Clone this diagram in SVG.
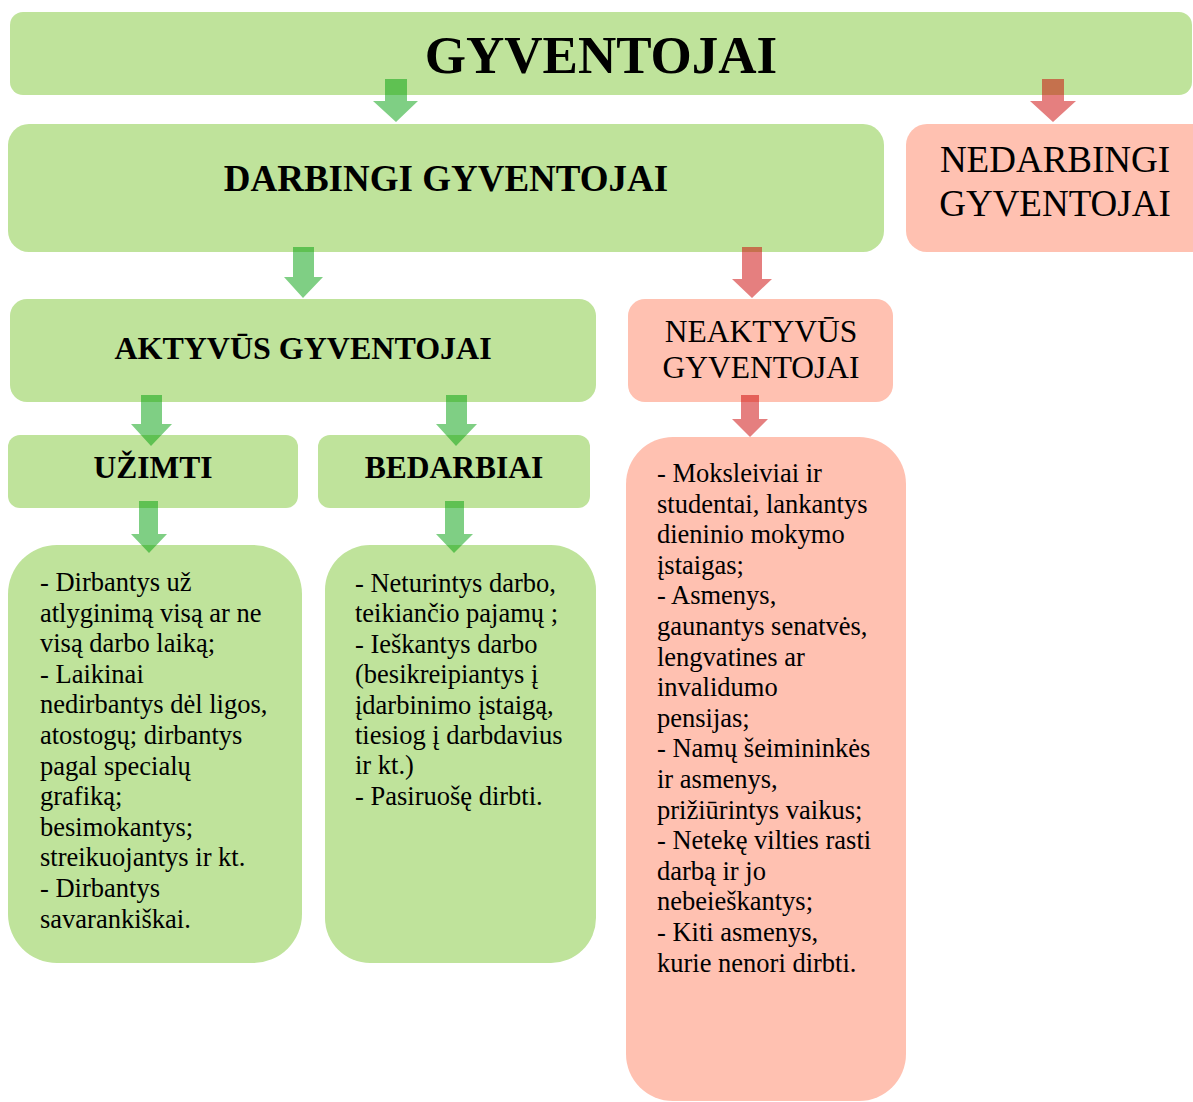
<svg xmlns="http://www.w3.org/2000/svg" width="1193" height="1102" viewBox="0 0 1193 1102">
<style>
.g{fill:#bfe39b}
.p{fill:#ffc1b1}
.t{font-family:"Liberation Serif","Times New Roman",serif;fill:#000}
.b{font-weight:bold;text-anchor:middle}
.c{text-anchor:middle}
.body{font-size:26.5px}
.ag{fill:#00a00a;fill-opacity:.5}
.ar{fill:#cc0000;fill-opacity:.5}
</style>
<rect width="1193" height="1102" fill="#fff"/>
<g id="gyventojai">
<rect class="g" x="10" y="12" width="1182" height="83" rx="13"/>
<text class="t b" x="601" y="73" font-size="53">GYVENTOJAI</text>
</g>
<g id="darbingi">
<rect class="g" x="8" y="124" width="876" height="128" rx="21"/>
<text class="t b" x="446" y="191" font-size="37">DARBINGI GYVENTOJAI</text>
</g>
<g id="nedarbingi">
<rect class="p" x="906" y="124" width="310" height="128" rx="21"/>
<text class="t c" x="1055" y="172" font-size="37">NEDARBINGI</text>
<text class="t c" x="1055" y="216" font-size="37">GYVENTOJAI</text>
</g>
<g id="aktyvus">
<rect class="g" x="10" y="299" width="586" height="103" rx="17"/>
<text class="t b" x="303" y="359" font-size="32">AKTYVŪS GYVENTOJAI</text>
</g>
<g id="neaktyvus">
<rect class="p" x="628" y="299" width="265" height="103" rx="17"/>
<text class="t c" x="761" y="342" font-size="31.5">NEAKTYVŪS</text>
<text class="t c" x="761" y="378" font-size="31.5">GYVENTOJAI</text>
</g>
<g id="uzimti">
<rect class="g" x="8" y="435" width="290" height="73" rx="12"/>
<text class="t b" x="153" y="478" font-size="31.5">UŽIMTI</text>
</g>
<g id="bedarbiai">
<rect class="g" x="318" y="435" width="272" height="73" rx="12"/>
<text class="t b" x="454" y="478" font-size="31.5">BEDARBIAI</text>
</g>
<g id="uzimti-sarasas">
<rect class="g" x="8" y="545" width="294" height="418" rx="49"/>
<text class="t body" x="40" y="591">
<tspan x="40" y="591">- Dirbantys už</tspan>
<tspan x="40" dy="30.6">atlyginimą visą ar ne</tspan>
<tspan x="40" dy="30.6">visą darbo laiką;</tspan>
<tspan x="40" dy="30.6">- Laikinai</tspan>
<tspan x="40" dy="30.6">nedirbantys dėl ligos,</tspan>
<tspan x="40" dy="30.6">atostogų; dirbantys</tspan>
<tspan x="40" dy="30.6">pagal specialų</tspan>
<tspan x="40" dy="30.6">grafiką;</tspan>
<tspan x="40" dy="30.6">besimokantys;</tspan>
<tspan x="40" dy="30.6">streikuojantys ir kt.</tspan>
<tspan x="40" dy="30.6">- Dirbantys</tspan>
<tspan x="40" dy="30.6">savarankiškai.</tspan>
</text>
</g>
<g id="bedarbiai-sarasas">
<rect class="g" x="325" y="545" width="271" height="418" rx="45"/>
<text class="t body" x="355" y="592">
<tspan x="355" y="592">- Neturintys darbo,</tspan>
<tspan x="355" dy="30.4">teikiančio pajamų ;</tspan>
<tspan x="355" dy="30.4">- Ieškantys darbo</tspan>
<tspan x="355" dy="30.4">(besikreipiantys į</tspan>
<tspan x="355" dy="30.4">įdarbinimo įstaigą,</tspan>
<tspan x="355" dy="30.4">tiesiog į darbdavius</tspan>
<tspan x="355" dy="30.4">ir kt.)</tspan>
<tspan x="355" dy="30.4">- Pasiruošę dirbti.</tspan>
</text>
</g>
<g id="neaktyvus-sarasas">
<rect class="p" x="626" y="437" width="280" height="664" rx="47"/>
<text class="t body" x="657" y="482">
<tspan x="657" y="482">- Moksleiviai ir</tspan>
<tspan x="657" dy="30.6">studentai, lankantys</tspan>
<tspan x="657" dy="30.6">dieninio mokymo</tspan>
<tspan x="657" dy="30.6">įstaigas;</tspan>
<tspan x="657" dy="30.6">- Asmenys,</tspan>
<tspan x="657" dy="30.6">gaunantys senatvės,</tspan>
<tspan x="657" dy="30.6">lengvatines ar</tspan>
<tspan x="657" dy="30.6">invalidumo</tspan>
<tspan x="657" dy="30.6">pensijas;</tspan>
<tspan x="657" dy="30.6">- Namų šeimininkės</tspan>
<tspan x="657" dy="30.6">ir asmenys,</tspan>
<tspan x="657" dy="30.6">prižiūrintys vaikus;</tspan>
<tspan x="657" dy="30.6">- Netekę vilties rasti</tspan>
<tspan x="657" dy="30.6">darbą ir jo</tspan>
<tspan x="657" dy="30.6">nebeieškantys;</tspan>
<tspan x="657" dy="30.6">- Kiti asmenys,</tspan>
<tspan x="657" dy="30.6">kurie nenori dirbti.</tspan>
</text>
</g>
<g id="connectors">
<polygon class="ag" points="385,79 407,79 407,101 418,101 396,122 373,101 385,101"/>
<polygon class="ar" points="1042,79 1064,79 1064,101 1076,101 1053,122 1030,101 1042,101"/>
<polygon class="ag" points="293,247 314,247 314,277 323,277 303,298 284,277 293,277"/>
<polygon class="ar" points="742,247 762,247 762,279 772,279 752,298 732,279 742,279"/>
<polygon class="ag" points="141,395 162,395 162,424 172,424 151,446 131,424 141,424"/>
<polygon class="ag" points="446,395 467,395 467,424 477,424 456,446 436,424 446,424"/>
<polygon class="ar" points="741,395 759,395 759,419 768,419 750,437 732,419 741,419"/>
<polygon class="ag" points="139,501 158,501 158,534 167,534 149,553 131,534 139,534"/>
<polygon class="ag" points="445,501 464,501 464,534 473,534 454,553 436,534 445,534"/>
</g>
</svg>
